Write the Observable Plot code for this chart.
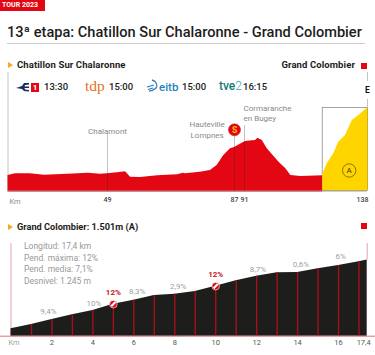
<!DOCTYPE html>
<html lang="es"><head><meta charset="utf-8">
<script src="https://cdn.jsdelivr.net/npm/d3@7"></script>
<script src="https://cdn.jsdelivr.net/npm/@observablehq/plot@0.6"></script>
<style>
html,body{margin:0;padding:0;background:#fff;overflow:hidden}
#page{position:relative;width:375px;height:355px;font-family:Roboto,sans-serif;color:#1d1d1b;overflow:hidden}
#page>*{position:absolute;white-space:nowrap}
#page svg{display:block;background:transparent}
.h{font-weight:700;font-size:9.5px;line-height:12px;letter-spacing:.1px}
.t{font-size:9.5px;line-height:12px;font-weight:500;top:81px}
</style></head><body>
<div id="page">
  <div style="left:0;top:0;width:45px;height:11px;background:#e30613;color:#fff;font:700 7px/11px Roboto,sans-serif;text-indent:2px">TOUR 2023</div>
  <div style="left:7px;top:22px;font-size:14.6px;line-height:20px;font-weight:500" id="title">13ª etapa: Chatillon Sur Chalaronne - Grand Colombier</div>
  <div style="left:7px;top:43px;width:358px;height:1px;background:#ccc"></div>
  <div style="left:8px;top:62px;width:0;height:0;border-left:5px solid #f9a81a;border-top:3.5px solid transparent;border-bottom:3.5px solid transparent"></div>
  <div class="h" style="left:17px;top:59px">Chatillon Sur Chalaronne</div>
  <div class="h" style="right:20px;top:59px">Grand Colombier</div>
  <div style="left:361px;top:63px;width:6px;height:6px;background:#e30613"></div>

  <svg style="left:16px;top:82px" width="14" height="10" viewBox="0 0 14 10"><path d="M0 6 L6 4 L8 1 L13 1 L13 2.5 L9 3 L8.5 4.5 L13 4.5 L13 6 L8.5 6 L9 7.5 L13 8 L13 9.5 L8 9 L6 7 Z" fill="#1b2a5b"/></svg>
  <div style="left:31px;top:83px;width:8px;height:9px;background:#e30613;color:#fff;font:700 8px/9px Roboto,sans-serif;text-align:center">1</div>
  <div class="t" style="left:44px">13:30</div>
  <div style="left:85px;top:78px;font:400 15.5px/16px 'Liberation Serif',serif;color:#e2711d">tdp</div>
  <div class="t" style="left:109px">15:00</div>
  <svg style="left:146px;top:79px" width="13" height="13" viewBox="0 0 13 13" fill="none" stroke="#2a7fc1" stroke-width="1.3"><path d="M6 1 C10 2 12 6 10 9 C8 11 5 12 3 12"/><path d="M1 8 L8 6"/><path d="M2 10.5 L7 9"/></svg>
  <div style="left:159px;top:80px;font:500 11.5px/14px Roboto,sans-serif;color:#2a7fc1">eitb</div>
  <div class="t" style="left:182px">15:00</div>
  <div style="left:219px;top:79px;font:500 12px/14px Roboto,sans-serif;color:#0f7b7b">tve<span style="font-weight:300;color:#3fa7a7">2</span></div>
  <div class="t" style="left:243px">16:15</div>

  <div style="left:8px;top:224px;width:0;height:0;border-left:5px solid #f9a81a;border-top:3.5px solid transparent;border-bottom:3.5px solid transparent"></div>
  <div class="h" style="left:17px;top:221px;font-size:9.2px;letter-spacing:0">Grand Colombier: 1.501m (A)</div>
  <div style="left:361px;top:223px;width:6px;height:6px;background:#e30613"></div>
  <div id="stage" style="left:0;top:0"></div>
  <div id="climb" style="left:0;top:215px"></div>
  <div style="left:24px;top:241px;font-size:8.5px;line-height:11.5px;color:#999">Longitud: 17,4 km<br>Pend. máxima: 12%<br>Pend. media: 7,1%<br>Desnivel: 1.245 m</div>
</div>
<script>
// Stage profile (km, metres)
const stageKm = [0,3.7,11,18,29.5,39.6,45.6,49,52,54.4,55.9,58.9,64,70,71.7,72.3,76.8,79.8,81.8,83.8,85.8,87,91,92,95.2,96.1,97.8,99.7,104.2,106.8,108.7,112.6,120.9];
const stageElevation = [280,311,311,286,304,322,304,310,329,347,250,244,275,293,322,311,340,371,461,642,763,785,885,900,913,955,913,763,522,401,280,262,275];
const finalKm = [120.9,122.6,125.1,127,129.6,132.2,134.7,138];
const finalElevation = [293,492,673,883,1004,1275,1365,1501];
const stageTicks = [49,87,91];
const stageEndTick = [138];
const stageTickKm = [0,49,87,91,138];
const stageTickPlace = [7.5,107,234,244,367];
const stageRuleKm = [49,87,91];
const stageRuleElevation = [310,785,885];
const stagePlaces = ["Chalamont"];
// Final climb
const climbKm = [0,1,2,3,4,5,6,7,8,9,10,11,12,13,14,15,16,17,17.4];
const climbElevation = [256,334,424,509,587,701,774,859,882,931,1027,1125,1208,1270,1275,1342,1402,1469,1501];
const climbTicks = [2,4,6,8,10,12,14,16];
const climbEndTick = [17.4];
const gradeKm = [1.83,4.05,6.16,8.17,12.06,14.16,16.1];
const gradeLabel = ["9,4%","10%","8,3%","2,9%","8,7%","0,6%","6%"];
const gradeAlt = [569,708,936,1021,1329,1425,1564];
const steepKm = [5,10];
const steepElevation = [701,1027];
const steepLabel = ["12%","12%"];

const RED="#e30613", DARK="#a5101a", YEL="#ffd500", BLK="#1d1d1b", TXT="#8a8a8a";
const stage = stageKm.map((km,i)=>({km,e:stageElevation[i]}));
const fin = finalKm.map((km,i)=>({km,e:finalElevation[i]}));
const climb = climbKm.map((km,i)=>({km,e:climbElevation[i]}));
// The reference's km axis is not even: warp km through its tick positions.
const warp = d3.scaleLinear().domain(stageTickKm).range(stageTickPlace);

document.getElementById("stage").append(Plot.plot({
  width:375,height:215,marginTop:0,marginLeft:0,marginRight:0,marginBottom:20,
  style:{background:"transparent",fontFamily:"Roboto,sans-serif",overflow:"visible"},
  x:{transform:warp,domain:[7.5,367],range:[7.5,367],axis:null,label:null},
  y:{domain:[0,1501],range:[190.5,107.5],axis:null},
  marks:[
    Plot.ruleX([0],{y1:0,y2:2142,stroke:"#c4c4c4",strokeWidth:1}),
    Plot.ruleX([138],{y1:1501,y2:1660,stroke:"#c4c4c4",strokeWidth:1}),
    Plot.ruleX([138],{y1:1980,y2:2142,stroke:"#c4c4c4",strokeWidth:1}),
    Plot.rect([0],{x1:120.9,x2:138,y1:0,y2:1501,stroke:"#8c8c8c",strokeWidth:.8,fill:"none"}),
    Plot.ruleX([49],{y1:310,y2:1020,stroke:"#c4c4c4",strokeWidth:1}),
    Plot.ruleX([87],{y1:785,y2:1000,stroke:"#c4c4c4",strokeWidth:1}),
    Plot.ruleX([91],{y1:885,y2:1180,stroke:"#c4c4c4",strokeWidth:1}),
    Plot.areaY(stage,{x:"km",y:"e",fill:RED}),
    Plot.areaY(fin,{x:"km",y:"e",fill:YEL}),
    Plot.ruleX(stageRuleKm,{y1:0,y2:(d,i)=>stageRuleElevation[i],stroke:DARK,strokeWidth:.8}),
    Plot.ruleX([138],{y1:0,y2:1501,stroke:"#c9a800",strokeWidth:.8}),
    Plot.ruleY([0],{x1:0,x2:120.9,stroke:DARK,strokeWidth:1}),
    Plot.ruleY([0],{x1:120.9,x2:138,stroke:"#8c8c8c",strokeWidth:.8}),
    Plot.text(stagePlaces,{x:[49],y:[1076],text:d=>d,fill:TXT,fontSize:8}),
    Plot.text(["Hauteville\nLompnes"],{x:[78.8],y:[1121],text:d=>d,fill:TXT,fontSize:8,lineHeight:1.3}),
    Plot.text(["Cormaranche\nen Bugey"],{x:[91],y:[1419],dx:-1,text:d=>d,textAnchor:"start",fill:TXT,fontSize:8,lineHeight:1.3}),
    Plot.dot([87],{x:d=>d,y:[1106],r:6,fill:RED,stroke:"#c9101c",strokeWidth:.6}),
    Plot.text(["S"],{x:[87],y:[1106],text:d=>d,fill:"#ffc20e",fontSize:8.5,fontWeight:700}),
    Plot.dot([131],{x:d=>d,y:[371],r:6.7,fill:"none",stroke:"#6b5c00",strokeWidth:.8}),
    Plot.text(["A"],{x:[131],y:[371],text:d=>d,fill:"#3c3500",fontSize:8}),
    Plot.text(["E"],{x:[138],y:[1817],text:d=>d,fill:"#111",fontSize:8.5,fontWeight:700}),
    Plot.text(["Km"],{x:[0],y:[-190],dx:7,text:d=>d,fill:TXT,fontSize:7.5}),
    Plot.axisX(stageTicks,{anchor:"bottom",label:null,tickSize:0,tickPadding:2,fontSize:7,fontWeight:500,tickFormat:d=>d,fill:"#444"}),
    Plot.axisX(stageEndTick,{anchor:"bottom",label:null,tickSize:0,tickPadding:2,dx:-5,fontSize:7,fontWeight:500,tickFormat:d=>d,fill:"#444"})
  ]
}));

const stripe = {draw(c,size){const r=Math.sqrt(size/Math.PI);const a=r*.75,b=r*.28;
  c.moveTo(-a,a-b*1.4);c.lineTo(a-b*1.4,-a);c.lineTo(a,-a+b*1.4);c.lineTo(-a+b*1.4,a);c.closePath();}};

const fmt = d=>String(d).replace(".",",");
document.getElementById("climb").append(Plot.plot({
  width:375,height:140,marginTop:0,marginLeft:0,marginRight:0,marginBottom:17,
  style:{background:"transparent",fontFamily:"Roboto,sans-serif",overflow:"visible"},
  x:{domain:[0,17.4],range:[10.5,366.7],axis:null,label:null},
  y:{domain:[122,1501],range:[120.7,44.5],axis:null},
  marks:[
    Plot.ruleX([0],{y1:122,y2:1800,stroke:"#e6a3a8",strokeWidth:1}),
    Plot.ruleX([17.4],{y1:1501,y2:1800,stroke:"#e6a3a8",strokeWidth:1}),
    Plot.areaY(climb,{x:"km",y:"e",y1:122,fill:BLK}),
    Plot.ruleX(climb.slice(1,-1),{x:"km",y1:122,y2:"e",stroke:DARK,strokeWidth:1.4}),
    Plot.ruleY([122],{stroke:"#d9737a",strokeWidth:1}),
    Plot.text(gradeLabel,{x:gradeKm,y:gradeAlt,text:d=>d,fill:"#a0a0a0",fontSize:8}),
    Plot.text(steepLabel,{x:steepKm,y:steepElevation,dy:-12,text:d=>d,fill:"#c4161c",fontSize:8,fontWeight:700}),
    Plot.dot(steepKm,{x:d=>d,y:steepElevation,r:3.8,fill:"#e30613",stroke:"#fff",strokeWidth:.6}),
    Plot.dot(steepKm,{x:d=>d,y:steepElevation,r:3.8,fill:"#fff",symbol:stripe}),
    Plot.text(["Km"],{x:[0],y:[8],dx:3,text:d=>d,fill:"#a0a0a0",fontSize:7.5}),
    Plot.axisX(climbTicks,{anchor:"bottom",label:null,tickSize:0,tickPadding:1,fontSize:7.5,tickFormat:fmt,fill:"#555"}),
    Plot.axisX(climbEndTick,{anchor:"bottom",label:null,tickSize:0,tickPadding:1,dx:-3.5,fontSize:7.5,tickFormat:fmt,fill:"#555"})
  ]
}));
</script>
</body></html>
